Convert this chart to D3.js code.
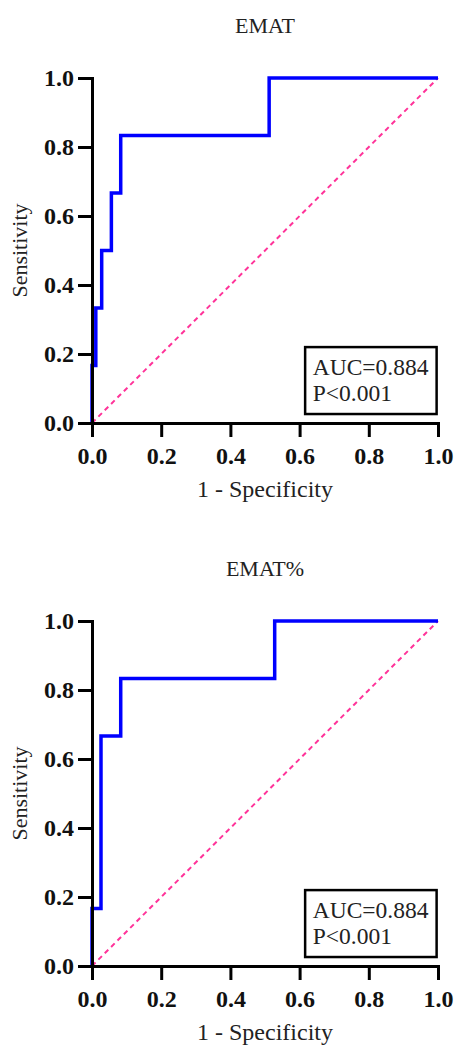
<!DOCTYPE html>
<html>
<head>
<meta charset="utf-8">
<script src="https://cdn.jsdelivr.net/npm/d3@7"></script>
<style>
  body { margin: 0; background: #fff; }
  .axis path, .axis line { stroke: #000; stroke-width: 3; }
</style>
</head>
<body>
<svg width="454" height="1048"></svg>
<script>
// ROC の点 (1 - 特異度, 感度)
const titles = ['EMAT', 'EMAT%']
const fprEMAT = [0, 0, 0.011, 0.028, 0.056, 0.083, 0.512, 1]
const tprEMAT = [0, 0.167, 0.333, 0.5, 0.667, 0.833, 1, 1]
const fprEMATpct = [0, 0, 0.026, 0.083, 0.528, 1]
const tprEMATpct = [0, 0.167, 0.667, 0.833, 1, 1]
const ticks = [0, 0.2, 0.4, 0.6, 0.8, 1.0]
const aucLabels = ['AUC=0.884', 'AUC=0.884']
const pLabels = ['P<0.001', 'P<0.001']

const serif = "'Liberation Serif', 'Times New Roman', 'DejaVu Serif', serif"
const svg = d3.select('svg')

// 1枚分のROC曲線を描く
function drawRoc(top, title, fpr, tpr, auc, p) {
  const x = d3.scaleLinear().domain([0, 1]).range([92, 438])
  const y = d3.scaleLinear().domain([0, 1]).range([top + 345, top])
  const g = svg.append('g')

  g.append('text')
    .attr('x', 265).attr('y', top - 45)
    .attr('text-anchor', 'middle')
    .attr('font-family', serif)
    .attr('font-size', 22)
    .attr('fill', '#222')
    .text(title)

  // 対角線
  g.append('line')
    .attr('x1', x(0)).attr('y1', y(0))
    .attr('x2', x(1)).attr('y2', y(1))
    .attr('stroke', '#ff3399')
    .attr('stroke-width', 2)
    .attr('stroke-dasharray', '5,4')

  const pts = fpr.map((d, i) => [d, tpr[i]])
  const line = d3.line().x(d => x(d[0])).y(d => y(d[1])).curve(d3.curveStepAfter)
  g.append('path')
    .attr('d', line(pts))
    .attr('fill', 'none')
    .attr('stroke', '#0000ff')
    .attr('stroke-width', 3.5)

  const xAxis = g.append('g')
    .attr('class', 'axis')
    .attr('transform', `translate(0,${y(0)})`)
    .call(d3.axisBottom(x).tickValues(ticks).tickFormat(d3.format('.1f')).tickSize(14).tickSizeOuter(0))
  xAxis.selectAll('text').attr('y', 24).attr('dy', '0.71em')

  const yAxis = g.append('g')
    .attr('class', 'axis')
    .attr('transform', `translate(${x(0)},0)`)
    .call(d3.axisLeft(y).tickValues(ticks).tickFormat(d3.format('.1f')).tickSize(14).tickSizeOuter(0))
  yAxis.selectAll('text').attr('x', -18)
  g.selectAll('.axis').attr('font-family', serif).attr('font-size', 24).attr('font-weight', 'bold')
  g.selectAll('.axis text').attr('fill', '#111')
  g.selectAll('.axis path').attr('stroke-linecap', 'square')

  g.append('text')
    .attr('x', 265).attr('y', y(0) + 74)
    .attr('text-anchor', 'middle')
    .attr('font-family', serif)
    .attr('font-size', 24)
    .attr('fill', '#222')
    .text('1 - Specificity')

  g.append('text')
    .attr('transform', `translate(27,${y(0.5)}) rotate(-90)`)
    .attr('text-anchor', 'middle')
    .attr('font-family', serif)
    .attr('font-size', 22)
    .attr('fill', '#222')
    .text('Sensitivity')

  // AUCの枠
  g.append('rect')
    .attr('x', x(0.616)).attr('y', y(0.22))
    .attr('width', x(0.996) - x(0.616))
    .attr('height', y(0.026) - y(0.22))
    .attr('fill', '#fff')
    .attr('stroke', '#000')
    .attr('stroke-width', 2.5)
  g.append('text')
    .attr('x', x(0.638)).attr('y', y(0.22) + 28)
    .attr('font-family', serif)
    .attr('font-size', 23.5)
    .attr('fill', '#222')
    .text(auc)
  g.append('text')
    .attr('x', x(0.638)).attr('y', y(0.22) + 54)
    .attr('font-family', serif)
    .attr('font-size', 23.5)
    .attr('fill', '#222')
    .text(p)
}

drawRoc(78, titles[0], fprEMAT, tprEMAT, aucLabels[0], pLabels[0])
drawRoc(621, titles[1], fprEMATpct, tprEMATpct, aucLabels[1], pLabels[1])
</script>
</body>
</html>
